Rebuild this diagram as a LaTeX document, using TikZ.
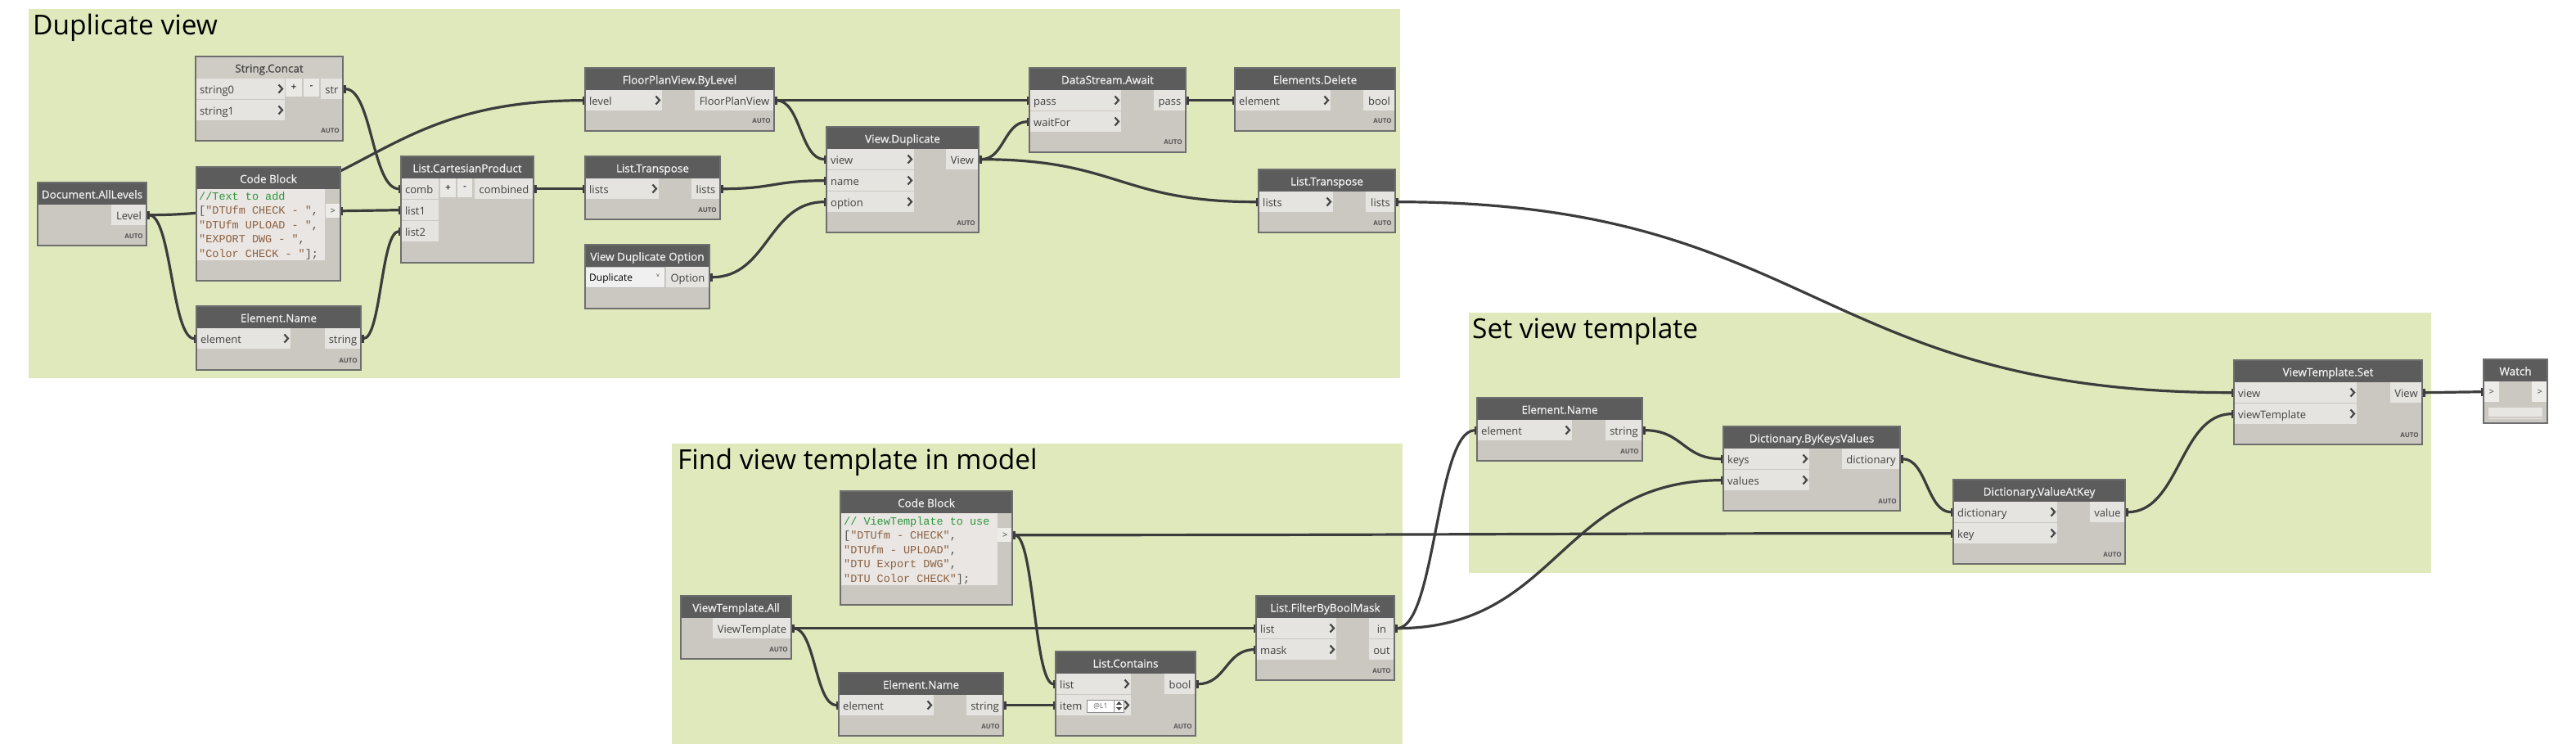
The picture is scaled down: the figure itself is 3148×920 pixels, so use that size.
\documentclass[tikz,border=0pt]{standalone}
\usepackage{fontspec}
\setmainfont{Open Sans}
\newfontfamily\codefont{Liberation Mono}
\newfontfamily\titlefont[FakeBold=0.6]{Open Sans}
\usetikzlibrary{arrows.meta,calc,positioning}

\definecolor{groupbg}{RGB}{224,233,187}
\definecolor{headdark}{RGB}{92,92,92}
\definecolor{headlight}{RGB}{207,203,197}
\definecolor{bodygrey}{RGB}{203,199,193}
\definecolor{portgrey}{RGB}{230,228,224}
\definecolor{framegrey}{RGB}{110,110,110}
\definecolor{wiredark}{RGB}{60,60,60}
\definecolor{titlewhite}{RGB}{242,242,242}
\definecolor{titledark}{RGB}{72,72,72}
\definecolor{labelgrey}{RGB}{64,64,64}
\definecolor{chevgrey}{RGB}{70,70,70}
\definecolor{autogrey}{RGB}{85,85,85}
\definecolor{codebg}{RGB}{233,230,227}
\definecolor{codeportbg}{RGB}{238,236,233}
\definecolor{codecmt}{RGB}{46,150,58}
\definecolor{codestr}{RGB}{140,96,64}
\definecolor{codepunct}{RGB}{80,80,80}
\definecolor{pmgrey}{RGB}{235,233,230}
\definecolor{watchbar}{RGB}{232,230,227}

\pgfdeclarelayer{grp}
\pgfdeclarelayer{wires}
\pgfdeclarelayer{front}
\pgfsetlayers{grp,wires,main,front}

\tikzset{
	tab/.tip={Rectangle[length=3.5pt,width=10pt]},
	nodebody/.style={fill=bodygrey},
	darkhead/.style={fill=headdark, text=titlewhite},
	lighthead/.style={fill=headlight, text=titledark},
	nodetitle/.style={font=\titlefont\fontsize{13.5}{16}\selectfont, inner sep=0pt},
	nodeframe/.style={draw=framegrey, line width=1.3pt},
	inbox/.style={fill=portgrey, minimum height=25pt, inner sep=0pt},
	portlabel/.style={text=labelgrey, font=\fontsize{13}{15}\selectfont, inner sep=0pt},
	chevline/.style={draw=chevgrey, line width=2.2pt},
	chev/.pic={\draw[chevline] (-2.5,-5) -- (2,0) -- (-2.5,5);},
	autotag/.style={font=\bfseries\fontsize{8}{9}\selectfont, text=autogrey, inner sep=0pt},
	codeline/.style={font=\codefont\fontsize{13.5}{17.5}\selectfont, text=codepunct, inner sep=0pt},
	codeport/.style={fill=codeportbg, minimum height=17pt, inner sep=0pt, text=labelgrey, font=\fontsize{11}{12}\selectfont},
	pmbox/.style={fill=pmgrey, minimum height=22pt, inner sep=0pt, text=black, font=\fontsize{12}{14}\selectfont},
	dropbox/.style={fill=white!94!black, draw=black!25, minimum height=25pt, inner sep=0pt},
	droptext/.style={font=\fontsize{12}{14}\selectfont, text=black, inner sep=0pt},
	dropmark/.style={font=\fontsize{7}{8}\selectfont, text=labelgrey, inner sep=0pt},
	spinbox/.style={fill=white, draw=black!45, line width=0.8pt, inner sep=0pt, text=black!60, font=\fontsize{8.5}{9}\selectfont},
	wire/.style={draw=wiredark, line width=3.2pt, tab-tab},
	grouptitle/.style={font=\fontsize{33.5}{40}\selectfont, text=black, inner sep=0pt}
}

% a Dynamo node: header style, name, top left, bottom right, title
\def\dynnode[#1](#2)(#3,#4)(#5,#6)#7{%
	\fill[nodebody] (#3,#4) rectangle (#5,#6);
	\fill[#1] (#3,#4) rectangle (#5,#4+27);
	\node[nodetitle,#1,anchor=base] (#2) at ({(#3+#5)/2},#4+19.5) {#7};
	\begin{pgfonlayer}{front}\draw[nodeframe] (#3,#4) rectangle (#5,#6);\end{pgfonlayer}}
\def\inport(#1)(#2,#3)(#4)#5{%
	\node[inbox, minimum width={#4-#2}, anchor=north west] (#1) at (#2,#3) {};
	\node[portlabel, anchor=base west] (#1-l) at (#2+5,#3+18.5) {#5};
	\pic at (#4-5,#3+12.5) {chev};}
\def\plainin(#1)(#2,#3)(#4)#5{%
	\node[inbox, minimum width={#4-#2}, anchor=north west] (#1) at (#2,#3) {};
	\node[portlabel, anchor=base west] (#1-l) at (#2+5,#3+18.5) {#5};}
\def\outport(#1)(#2,#3)(#4)#5{%
	\node[inbox, minimum width={#4-#2}, anchor=north west] (#1) at (#2,#3) {};
	\node[portlabel, anchor=base] (#1-l) at ({(#2+#4)/2},#3+18.5) {#5};}
\def\autotag(#1)(#2,#3){\node[autotag, anchor=base east] (#1) at (#2,#3) {AUTO};}
\def\wire(#1)(#2){\draw[wire] let \p1=(#1.east), \p2=(#2.west), \n1={0.5*(\x2-\x1)} in (\p1) .. controls +(\n1,0) and +(-\n1,0) .. (\p2);}

\begin{document}
\begin{tikzpicture}[x=1pt, y=-1pt]
	\useasboundingbox (0,0) rectangle (3148,920);
	
	%%%%% GROUPS %%%%%
	\begin{pgfonlayer}{grp}
		\fill[groupbg] (35,11) rectangle (1711,462);
		\fill[groupbg] (1795,382) rectangle (2971,700);
		\fill[groupbg] (821,542) rectangle (1714,909);
	\end{pgfonlayer}
	\node[grouptitle, anchor=base west] (gDup) at (40,43) {Duplicate view};
	\node[grouptitle, anchor=base west] (gSet) at (1799,413) {Set view template};
	\node[grouptitle, anchor=base west] (gFind) at (828,573) {Find view template in model};
	
	%%%%% DUPLICATE VIEW %%%%%
	\dynnode[darkhead](docLevels)(46,223)(179,300){Document.AllLevels}
	\outport(lvlOut)(136,250)(179){Level}
	\autotag(docAuto)(175,291)
	
	\dynnode[lighthead](strConcat)(239,69)(419,172){String.Concat}
	\inport(strIn0)(239,96)(348){string0}
	\inport(strIn1)(239,122)(348){string1}
	\node[pmbox, minimum width=20pt] (strPlus) at (359,107) {+};
	\node[pmbox, minimum width=19pt] (strMinus) at (380.5,107) {-};
	\outport(strOut)(392,96)(419){str}
	\autotag(strAuto)(415,163)
	
	\dynnode[darkhead](codeA)(240,204)(416,343){Code Block}
	\fill[codebg] (240,231) rectangle (397,318);
	\node[codeline, anchor=base west] (codeA1) at (243,244) {\textcolor{codecmt}{//Text to add}};
	\node[codeline, anchor=base west] (codeA2) at (243,261.5) {[\textcolor{codestr}{"DTUfm CHECK - "},};
	\node[codeline, anchor=base west] (codeA3) at (243,279) {\textcolor{codestr}{"DTUfm UPLOAD - "},};
	\node[codeline, anchor=base west] (codeA4) at (243,296.5) {\textcolor{codestr}{"EXPORT DWG - "},};
	\node[codeline, anchor=base west] (codeA5) at (243,314) {\textcolor{codestr}{"Color CHECK - "}];};
	\node[codeport, minimum width=17pt, anchor=north west] (codeAOut) at (398,249) {>};
	
	\dynnode[darkhead](nameA)(240,374)(441,452){Element.Name}
	\inport(nameAIn)(240,401)(355){element}
	\outport(nameAOut)(397,401)(441){string}
	\autotag(nameAAuto)(437,443)
	
	\dynnode[darkhead](cartesian)(490,191)(652,321){List.CartesianProduct}
	\plainin(cpComb)(490,218)(536){comb}
	\node[pmbox, minimum width=19pt] (cpPlus) at (547.5,229.5) {+};
	\node[pmbox, minimum width=18pt] (cpMinus) at (568,229.5) {-};
	\outport(cpOut)(580,218)(652){combined}
	\plainin(cpList1)(490,244)(536){list1}
	\plainin(cpList2)(490,270)(536){list2}
	
	\dynnode[darkhead](transA)(715,191)(880,268){List.Transpose}
	\inport(trAIn)(715,218)(805){lists}
	\outport(trAOut)(845,218)(880){lists}
	\autotag(trAAuto)(876,259)
	
	\dynnode[darkhead](floorPlan)(715,83)(946,160){FloorPlanView.ByLevel}
	\inport(fpvLevel)(715,110)(809){level}
	\outport(fpvOut)(849,110)(946){FloorPlanView}
	\autotag(fpvAuto)(942,151)
	
	\dynnode[darkhead](dupOption)(715,299)(867,377){View Duplicate Option}
	\node[dropbox, minimum width=97pt, anchor=north west] (optDrop) at (715,326) {};
	\node[droptext, anchor=base west] (optDropText) at (720,343) {Duplicate};
	\node[dropmark] (optDropMark) at (804,337) {v};
	\outport(optOut)(814,326)(867){Option}
	
	\dynnode[darkhead](viewDup)(1010,155)(1196,284){View.Duplicate}
	\inport(vdView)(1010,182)(1117){view}
	\inport(vdName)(1010,208)(1117){name}
	\inport(vdOption)(1010,234)(1117){option}
	\outport(vdOut)(1156,182)(1196){View}
	\autotag(vdAuto)(1192,275)
	
	\dynnode[darkhead](await)(1258,83)(1449,186){DataStream.Await}
	\inport(awPass)(1258,110)(1370){pass}
	\inport(awWait)(1258,136)(1370){waitFor}
	\outport(awOut)(1410,110)(1449){pass}
	\autotag(awAuto)(1445,177)
	
	\dynnode[darkhead](delete)(1509,83)(1705,160){Elements.Delete}
	\inport(delIn)(1509,110)(1626){element}
	\outport(delOut)(1666,110)(1705){bool}
	\autotag(delAuto)(1701,151)
	
	\dynnode[darkhead](transB)(1538,207)(1705,284){List.Transpose}
	\inport(trBIn)(1538,234)(1629){lists}
	\outport(trBOut)(1669,234)(1705){lists}
	\autotag(trBAuto)(1701,275)
	
	%%%%% SET VIEW TEMPLATE %%%%%
	\dynnode[darkhead](nameB)(1805,486)(2007,563){Element.Name}
	\inport(nameBIn)(1805,513)(1921){element}
	\outport(nameBOut)(1962,513)(2007){string}
	\autotag(nameBAuto)(2003,554)
	
	\dynnode[darkhead](dictBy)(2106,521)(2322,624){Dictionary.ByKeysValues}
	\inport(dkKeys)(2106,548)(2211){keys}
	\inport(dkValues)(2106,574)(2211){values}
	\outport(dkOut)(2251,548)(2322){dictionary}
	\autotag(dkAuto)(2318,615)
	
	\dynnode[darkhead](valAt)(2387,586)(2597,689){Dictionary.ValueAtKey}
	\inport(vakDict)(2387,613)(2514){dictionary}
	\inport(vakKey)(2387,639)(2514){key}
	\outport(vakOut)(2554,613)(2597){value}
	\autotag(vakAuto)(2593,680)
	
	\dynnode[darkhead](vtSet)(2730,440)(2960,543){ViewTemplate.Set}
	\inport(vtsView)(2730,467)(2880){view}
	\inport(vtsTemplate)(2730,493)(2880){viewTemplate}
	\outport(vtsOut)(2921,467)(2960){View}
	\autotag(vtsAuto)(2956,534)
	
	\dynnode[darkhead](watch)(3035,439)(3113,517){Watch}
	\node[codeport, minimum width=19pt, minimum height=25pt, anchor=north west] (watchIn) at (3035,466) {>};
	\node[codeport, minimum width=19pt, minimum height=25pt, anchor=north west] (watchOut) at (3094,466) {>};
	\fill[watchbar] (3041,498) rectangle (3107,509);
	\draw[watchbar, line width=1pt] (3041,511.5) -- (3107,511.5);
	
	%%%%% FIND VIEW TEMPLATE %%%%%
	\dynnode[darkhead](codeB)(1027,600)(1237,739){Code Block}
	\fill[codebg] (1027,627) rectangle (1219,715);
	\node[codeline, anchor=base west] (codeB1) at (1031,641) {\textcolor{codecmt}{// ViewTemplate to use}};
	\node[codeline, anchor=base west] (codeB2) at (1031,658.5) {[\textcolor{codestr}{"DTUfm - CHECK"},};
	\node[codeline, anchor=base west] (codeB3) at (1031,676) {\textcolor{codestr}{"DTUfm - UPLOAD"},};
	\node[codeline, anchor=base west] (codeB4) at (1031,693.5) {\textcolor{codestr}{"DTU Export DWG"},};
	\node[codeline, anchor=base west] (codeB5) at (1031,711) {\textcolor{codestr}{"DTU Color CHECK"}];};
	\node[codeport, minimum width=18pt, anchor=north west] (codeBOut) at (1219,645) {>};
	
	\dynnode[darkhead](vtAll)(832,728)(967,805){ViewTemplate.All}
	\outport(vtaOut)(871,755)(967){ViewTemplate}
	\autotag(vtaAuto)(963,796)
	
	\dynnode[darkhead](nameC)(1025,822)(1226,899){Element.Name}
	\inport(nameCIn)(1025,849)(1141){element}
	\outport(nameCOut)(1181,849)(1226){string}
	\autotag(nameCAuto)(1222,890)
	
	\dynnode[darkhead](contains)(1290,796)(1461,899){List.Contains}
	\inport(ctList)(1290,823)(1382){list}
	\inport(ctItem)(1290,849)(1382){item}
	\node[spinbox, minimum width=33pt, minimum height=15pt, anchor=north west] (ctSpin) at (1328,855) {@L1};
	\node[spinbox, minimum width=12pt, minimum height=15pt, anchor=north west] (ctArrows) at (1361,855) {};
	\fill[chevgrey] (1364,861) -- (1371,861) -- (1367.5,857) -- cycle;
	\fill[chevgrey] (1364,864) -- (1371,864) -- (1367.5,868) -- cycle;
	\outport(ctOut)(1423,823)(1461){bool}
	\autotag(ctAuto)(1457,890)
	
	\dynnode[darkhead](filter)(1535,728)(1704,831){List.FilterByBoolMask}
	\inport(fbList)(1535,755)(1633){list}
	\inport(fbMask)(1535,781)(1633){mask}
	\outport(fbIn)(1673,755)(1704){in}
	\outport(fbOut)(1673,781)(1704){out}
	\autotag(fbAuto)(1700,822)
	
	%%%%% WIRES %%%%%
	\begin{pgfonlayer}{wires}
		\wire(lvlOut)(fpvLevel)
		\wire(lvlOut)(nameAIn)
		\wire(strOut)(cpComb)
		\wire(codeAOut)(cpList1)
		\wire(nameAOut)(cpList2)
		\wire(cpOut)(trAIn)
		\wire(trAOut)(vdName)
		\wire(fpvOut)(vdView)
		\wire(fpvOut)(awPass)
		\wire(optOut)(vdOption)
		\wire(vdOut)(awWait)
		\wire(vdOut)(trBIn)
		\wire(awOut)(delIn)
		\wire(trBOut)(vtsView)
		\wire(vtsOut)(watchIn)
		\wire(nameBOut)(dkKeys)
		\wire(dkOut)(vakDict)
		\wire(vakOut)(vtsTemplate)
		\wire(codeBOut)(vakKey)
		\wire(codeBOut)(ctList)
		\wire(vtaOut)(fbList)
		\wire(vtaOut)(nameCIn)
		\wire(nameCOut)(ctItem)
		\wire(ctOut)(fbMask)
		\wire(fbIn)(nameBIn)
		\wire(fbIn)(dkValues)
	\end{pgfonlayer}
\end{tikzpicture}
\end{document}
